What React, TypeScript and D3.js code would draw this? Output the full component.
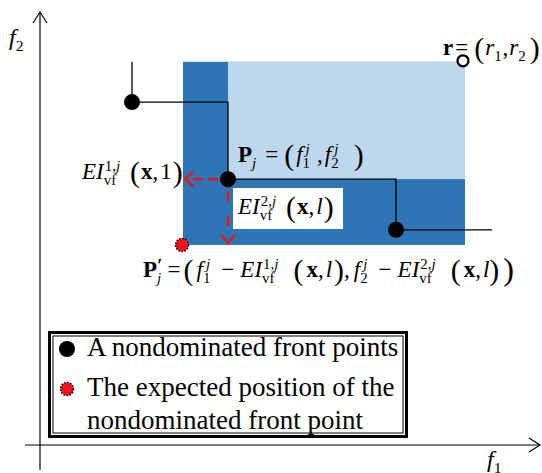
import React, { useEffect, useRef } from "react";
import * as d3 from "d3";

const W = 542;
const H = 473;
const FONT = "'Liberation Serif','Times New Roman',Times,serif";

// abstract objective space
const xDomain = [0, 10];
const yDomain = [0, 10];
const axisF1Extent = [-0.3, 10];
const axisF2Extent = [-0.58, 10];

// nondominated front points (f1, f2)
const frontF1 = [1.84, 3.76, 7.12];
const frontF2 = [7.92, 6.14, 4.97];
const currentIndex = 1; // P_j
const refR = [8.5, 8.85]; // reference point r
const frontTailF1 = 9.04;
const ei1 = 0.9; // EI^{1,j}
const ei2 = 1.52; // EI^{2,j}

const legendLabels = ["A nondominated front points", "The expected position of the", "nondominated front point"];

const DARK = "#2e75b6";
const LIGHT = "#bdd7ee";
const RED = "#f0141e";

type Tok =
  | { k: "t"; s: string; st?: "i" | "b" | "r"; sc?: number; dy?: number }
  | { k: "sp"; w: number }
  | { k: "ss"; sup?: Tok[]; sub?: Tok[]; supDx?: number }
  | { k: "p"; s: string; sc?: number };

const I = (s: string): Tok => ({ k: "t", s, st: "i" });
const R = (s: string): Tok => ({ k: "t", s, st: "r" });
const B = (s: string): Tok => ({ k: "t", s, st: "b" });
const SP = (w: number): Tok => ({ k: "sp", w });
const SS = (sup: Tok[] | null, sub: Tok[] | null, supDx = 1): Tok => ({ k: "ss", sup: sup || undefined, sub: sub || undefined, supDx });
const PAR = (s: string, sc = 1.3): Tok => ({ k: "p", s, sc });

function renderMath(g: any, toks: Tok[], x: number, y: number, size: number): number {
  let cx = x;
  for (const t of toks) {
    if (t.k === "t") {
      const fs = size * (t.sc || 1);
      const el = g
        .append("text")
        .attr("x", cx)
        .attr("y", y + (t.dy || 0))
        .attr("font-family", FONT)
        .attr("font-size", fs)
        .attr("font-style", t.st === "i" ? "italic" : "normal")
        .attr("font-weight", t.st === "b" ? "bold" : "normal")
        .attr("fill", "#000")
        .text(t.s);
      cx += (el.node() as SVGTextElement).getComputedTextLength();
    } else if (t.k === "sp") {
      cx += t.w;
    } else if (t.k === "p") {
      const fs = size * (t.sc || 1.3);
      const el = g
        .append("text")
        .attr("x", cx)
        .attr("y", y + size * 0.12)
        .attr("font-family", FONT)
        .attr("font-size", fs)
        .attr("fill", "#000")
        .text(t.s);
      cx += (el.node() as SVGTextElement).getComputedTextLength();
    } else if (t.k === "ss") {
      const s2 = size * 0.65;
      let w1 = 0;
      let w2 = 0;
      if (t.sup) w1 = renderMath(g, t.sup, cx + (t.supDx || 0), y - size * 0.33, s2) + (t.supDx || 0);
      if (t.sub) w2 = renderMath(g, t.sub, cx, y + size * 0.27, s2);
      cx += Math.max(w1, w2) + 1;
    }
  }
  return cx - x;
}

const eiTok = (n: string, arg: Tok, g1: number, g2: number, g3: number, g4: number): Tok[] => [
  I("EI"),
  SS([R(n + ","), I("j")], [R("vf")]),
  SP(g1),
  PAR("("),
  SP(g2),
  B("x"),
  R(","),
  SP(g3),
  arg,
  SP(g4),
  PAR(")"),
];

const rLabel: Tok[] = [B("r"), SP(2), R("="), SP(6), PAR("("), SP(1), I("r"), SS(null, [R("1")]), R(","), SP(1), I("r"), SS(null, [R("2")]), SP(3), PAR(")")];
const pjLabel: Tok[] = [B("P"), SS(null, [I("j")]), SP(8), R("="), SP(6), PAR("("), SP(2), I("f"), SS([I("j")], [R("1")], 3), SP(6), R(","), SP(2), I("f"), SS([I("j")], [R("2")], 3), SP(14), PAR(")")];
const ei1Label: Tok[] = eiTok("1", R("1"), 9, 1, 2, 1);
const ei2Label: Tok[] = eiTok("2", I("l"), 9, 1, 2, 1);
const ppLabel: Tok[] = [
  B("P"),
  SS([{ k: "t", s: "′", st: "b", sc: 1.3, dy: 3 }], [I("j")], 0),
  SP(4),
  R("="),
  SP(3),
  PAR("("),
  SP(3),
  I("f"),
  SS([I("j")], [R("1")], 3),
  SP(10),
  R("−"),
  SP(6),
  ...eiTok("1", I("l"), 14, 3, 2, 2),
  R(","),
  SP(4),
  I("f"),
  SS([I("j")], [R("2")], 3),
  SP(10),
  R("−"),
  SP(6),
  ...eiTok("2", I("l"), 14, 3, 2, 0),
  SP(4),
  PAR(")", 1.4),
];

export default function App() {
  const ref = useRef<SVGSVGElement | null>(null);

  useEffect(() => {
    const svg = d3.select(ref.current);
    svg.selectAll("*").remove();

    const x = d3.scaleLinear().domain(xDomain).range([40, 540]);
    const y = d3.scaleLinear().domain(yDomain).range([445, 12]);

    const pj = [frontF1[currentIndex], frontF2[currentIndex]];
    const expected = [pj[0] - ei1, pj[1] - ei2];

    // dark region
    svg
      .append("rect")
      .attr("x", x(expected[0]))
      .attr("y", y(refR[1]))
      .attr("width", x(refR[0]) - x(expected[0]))
      .attr("height", y(expected[1]) - y(refR[1]))
      .attr("fill", DARK);
    // light region (dominated by P_j)
    svg
      .append("rect")
      .attr("x", x(pj[0]))
      .attr("y", y(refR[1]))
      .attr("width", x(refR[0]) - x(pj[0]))
      .attr("height", y(pj[1]) - y(refR[1]))
      .attr("fill", LIGHT);

    // axes
    const ax = svg.append("g").attr("stroke", "#000").attr("stroke-width", 1.2).attr("fill", "none");
    ax.append("line").attr("x1", x(axisF1Extent[0])).attr("x2", x(axisF1Extent[1])).attr("y1", y(0)).attr("y2", y(0));
    ax.append("line").attr("x1", x(0)).attr("x2", x(0)).attr("y1", y(axisF2Extent[0])).attr("y2", y(axisF2Extent[1]));
    const xt = x(axisF1Extent[1]);
    ax.append("path").attr("d", `M${xt - 11},${y(0) - 7}L${xt},${y(0)}L${xt - 11},${y(0) + 7}`);
    const yt = y(axisF2Extent[1]);
    ax.append("path").attr("d", `M${x(0) - 7},${yt + 11}L${x(0)},${yt}L${x(0) + 7},${yt + 11}`);

    renderMath(svg, [I("f"), SS(null, [R("2")])], 9, 45, 24);
    renderMath(svg, [I("f"), SS(null, [R("1")])], 487, 467, 24);

    // front step line
    const pts: [number, number][] = [[frontF1[0], refR[1]]];
    frontF1.forEach((f, i) => pts.push([f, frontF2[i]]));
    pts.push([frontTailF1, frontF2[frontF2.length - 1]]);
    const line = d3
      .line<[number, number]>()
      .x((d) => x(d[0]))
      .y((d) => y(d[1]))
      .curve(d3.curveStepAfter);
    svg.append("path").attr("d", line(pts)).attr("fill", "none").attr("stroke", "#000").attr("stroke-width", 1.3);

    // EI2 label box
    svg.append("rect").attr("x", 233).attr("y", 188).attr("width", 110).attr("height", 41).attr("fill", "#fff");

    // red dashed arrows
    const ar = svg.append("g").attr("stroke", RED).attr("stroke-width", 2.5).attr("fill", "none");
    const px = x(pj[0]);
    const py = y(pj[1]);
    const hx = x(expected[0]) + 2;
    const vy = y(expected[1]) - 2;
    ar.append("line").attr("x1", px - 10).attr("y1", py).attr("x2", hx).attr("y2", py).attr("stroke-dasharray", "10,5");
    ar.append("path").attr("d", `M${hx + 8},${py - 7}L${hx},${py}L${hx + 8},${py + 7}`);
    ar.append("line").attr("x1", px).attr("y1", py + 2).attr("x2", px).attr("y2", vy).attr("stroke-dasharray", "0,10,10,5");
    ar.append("path").attr("d", `M${px - 7},${vy - 8}L${px},${vy}L${px + 7},${vy - 8}`);
    ar.append("path").attr("d", `M${px - 8},${py}L${px},${py}L${px},${py + 8}`);

    // front points
    svg
      .selectAll("circle.front")
      .data(frontF1.map((f, i) => [f, frontF2[i]]))
      .join("circle")
      .attr("class", "front")
      .attr("cx", (d) => x(d[0]))
      .attr("cy", (d) => y(d[1]))
      .attr("r", 8)
      .attr("fill", "#000");

    // reference point
    svg
      .append("circle")
      .attr("cx", x(refR[0]) - 2)
      .attr("cy", y(refR[1]) - 1)
      .attr("r", 5.5)
      .attr("fill", "#fff")
      .attr("stroke", "#000")
      .attr("stroke-width", 2.3);

    // expected point
    svg
      .append("circle")
      .attr("cx", x(expected[0]) - 1)
      .attr("cy", y(expected[1]))
      .attr("r", 6.5)
      .attr("fill", RED)
      .attr("stroke", "#000")
      .attr("stroke-width", 1.5)
      .attr("stroke-dasharray", "1.5,1.5");

    // math labels
    renderMath(svg, rLabel, 443, 55, 23);
    renderMath(svg, pjLabel, 238, 162, 23);
    renderMath(svg, ei1Label, 82, 179, 23);
    renderMath(svg, ei2Label, 238, 214, 23);
    renderMath(svg, ppLabel, 143, 277, 23);

    // legend
    const lg = svg.append("g");
    lg.append("rect").attr("x", 49.5).attr("y", 332.5).attr("width", 357).attr("height", 104).attr("fill", "#fff").attr("stroke", "#000").attr("stroke-width", 3);
    lg.append("rect").attr("x", 53).attr("y", 336).attr("width", 350).attr("height", 97).attr("fill", "none").attr("stroke", "#000").attr("stroke-width", 1);
    lg.append("circle").attr("cx", 67).attr("cy", 349).attr("r", 8).attr("fill", "#000");
    lg.append("circle")
      .attr("cx", 67)
      .attr("cy", 389)
      .attr("r", 6.5)
      .attr("fill", RED)
      .attr("stroke", "#000")
      .attr("stroke-width", 1.5)
      .attr("stroke-dasharray", "1.5,1.5");
    const baselines = [356, 396, 429];
    legendLabels.forEach((t, i) => {
      lg.append("text")
        .attr("x", 87)
        .attr("y", baselines[i])
        .attr("font-family", FONT)
        .attr("font-size", 27)
        .attr("fill", "#000")
        .text(t);
    });
  }, []);

  return <svg ref={ref} width={W} height={H} style={{ position: "absolute", left: 0, top: 0, background: "#fff" }} />;
}
